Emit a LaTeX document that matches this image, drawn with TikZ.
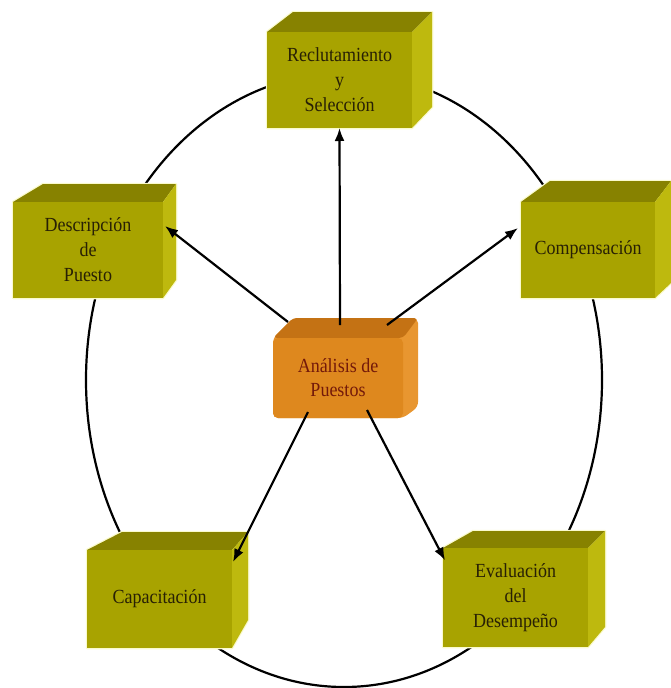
\documentclass[tikz,border=0pt]{standalone}
\usepackage{fontspec}
\setmainfont{Liberation Serif}
\newfontfamily\boxfont[FakeStretch=0.9]{Liberation Serif}
\usetikzlibrary{arrows.meta,calc}

\definecolor{olfront}{RGB}{168,163,0}
\definecolor{oltop}{RGB}{135,130,0}
\definecolor{olside}{RGB}{190,185,14}
\definecolor{olglow}{RGB}{250,250,205}
\definecolor{oltext}{RGB}{40,32,5}
\definecolor{orfront}{RGB}{222,136,30}
\definecolor{ortop}{RGB}{196,114,20}
\definecolor{orside}{RGB}{232,150,48}
\definecolor{ortext}{RGB}{115,25,10}

% top and right faces of an extruded box:
% #1,#2 = front top-left, #3,#4 = front bottom-right,
% #5 = back top y, #6 = back left x, #7 = back right x, #8 = back bottom y
\newcommand\cubefaces[8]{%
  \draw[olglow, line width=2.5pt, line join=round]
    (#1,#2) -- (#6,#5) -- (#7,#5) -- (#7,#8) -- (#3,#4) -- (#1,#4) -- cycle;
  \fill[oltop] (#1,#2) -- (#6,#5) -- (#7,#5) -- (#3,#2) -- cycle;
  \fill[olside] (#3,#2) -- (#7,#5) -- (#7,#8) -- (#3,#4) -- cycle;
}

\tikzset{
  olbox/.style={fill=olfront, inner sep=0pt, outer sep=0pt, align=center,
    text=oltext, font=\boxfont\fontsize{20}{25}\selectfont},
  orbox/.style={fill=orfront, rounded corners=5pt, inner sep=0pt, outer sep=0pt,
    align=center, text=ortext, font=\boxfont\fontsize{20}{24}\selectfont},
  ring/.style={line width=2.2pt, black},
  arr/.style={line width=2.2pt, -{Latex[length=13pt,width=10pt]}},
}

\begin{document}
\begin{tikzpicture}[x=1pt, y=-1pt]
\useasboundingbox (0,0) rectangle (671,688);

% surrounding cycle
\draw[ring] (344,380) ellipse [x radius=258pt, y radius=307pt];

% Reclutamiento y Selección
\cubefaces{267}{32}{412}{128}{12}{293}{432}{107}
\node[olbox, minimum width=145pt, minimum height=96pt] (recl) at (339.5,80)
  {Reclutamiento\\y\\Selección};

% Descripción de Puesto
\cubefaces{13}{202}{163}{298}{184}{43}{176}{280}
\node[olbox, minimum width=150pt, minimum height=96pt] (desc) at (88,250)
  {Descripción\\de\\Puesto};

% Compensación
\cubefaces{521}{202}{655}{298}{181}{550}{671}{283}
\node[olbox, minimum width=134pt, minimum height=96pt] (comp) at (588,250)
  {Compensación};

% Capacitación
\cubefaces{87}{550}{232}{648}{532}{122}{248}{620}
\node[olbox, minimum width=145pt, minimum height=98pt] (capa) at (159.5,599)
  {Capacitación};

% Evaluación del Desempeño
\cubefaces{443}{548}{588}{647}{531}{473}{605}{627}
\node[olbox, minimum width=145pt, minimum height=99pt] (eval) at (515.5,597.5)
  {Evaluación\\del\\Desempeño};

% central box: Análisis de Puestos
\fill[orside, rounded corners=5pt]
  (273,338) -- (293,318) -- (418,318) -- (418,407) -- (403,418) -- (273,418) -- cycle;
\fill[ortop, rounded corners=4pt]
  (273,338) -- (293,318) -- (418,318) -- (403,338) -- cycle;
\node[orbox, minimum width=130pt, minimum height=80pt] (ana) at (338,378)
  {Análisis de\\Puestos};

% arrow starts on the central box
\coordinate (s1) at ($(ana.north)+(-50,-16)$);
\coordinate (s2) at ($(ana.north)+(2,-13)$);
\coordinate (s3) at ($(ana.north)+(49,-13)$);
\coordinate (s4) at ($(ana.south)+(-30,-6)$);
\coordinate (s5) at ($(ana.south)+(29,-8)$);

\draw[arr] (s2) -- (recl.south);
\draw[arr] (s1) -- ([xshift=2pt, yshift=24pt]desc.east);
\draw[arr] (s3) -- ([xshift=-3pt, yshift=22pt]comp.west);
\draw[arr] (s4) -- ([xshift=1pt, yshift=37pt]capa.east);
\draw[arr] (s5) -- ([xshift=2pt, yshift=37pt]eval.west);
\end{tikzpicture}
\end{document}
